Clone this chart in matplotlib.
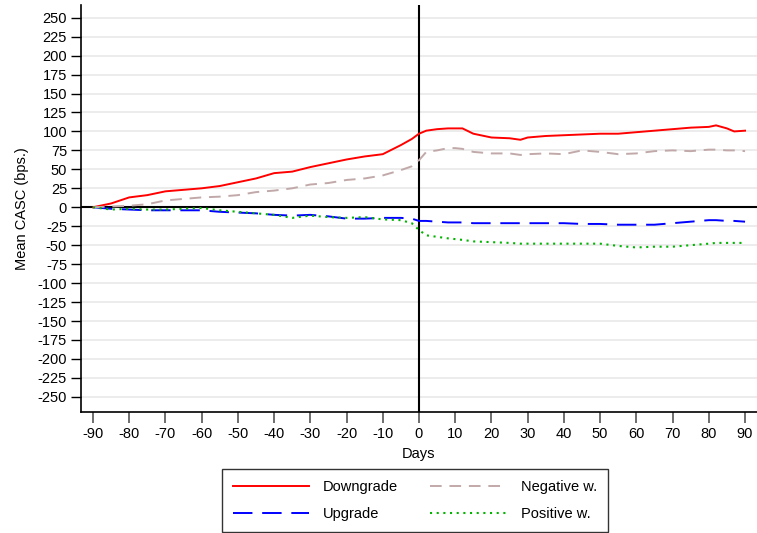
import matplotlib
matplotlib.use("Agg")
import matplotlib.pyplot as plt

plt.rcParams['font.family'] = ['Liberation Sans', 'DejaVu Sans']
plt.rcParams['axes.unicode_minus'] = False

# event window (days around rating event)
days = [-90, -85, -80, -75, -70, -65, -60, -55, -50, -45, -40, -35, -30, -25, -20, -15, -10, -5, -2,
        0, 2, 5, 8, 10, 12, 15, 20, 25, 28, 30, 35, 40, 45, 50, 55, 60, 65, 70, 75, 80, 82, 85, 87, 90]

downgrade = [0, 5, 13, 16, 21, 23, 25, 28, 33, 38, 45, 47, 53, 58, 63, 67, 70, 82, 90,
             97, 101, 103, 104, 104, 104, 97, 92, 91, 89, 92, 94, 95, 96, 97, 97, 99, 101, 103, 105, 106, 108, 104, 100, 101]
negative_w = [0, 1, 2, 4, 9, 11, 13, 14, 16, 20, 22, 25, 30, 32, 36, 38, 42, 49, 54,
              62, 73, 75, 78, 78, 77, 73, 71, 71, 69, 70, 71, 70, 75, 73, 70, 71, 74, 75, 74, 76, 76, 75, 75, 74]
upgrade = [0, -2, -3, -4, -4, -4, -4, -6, -7, -8, -10, -11, -10, -12, -15, -15, -14, -14, -15,
           -18, -18, -19, -20, -20, -20, -21, -21, -21, -21, -21, -21, -21, -22, -22, -23, -23, -23, -21, -19, -17, -17, -18, -18, -19]
positive_w = [0, -3, -2, -3, -3, -2, -1, -4, -6, -8, -10, -14, -11, -13, -14, -13, -16, -17, -21,
              -30, -37, -39, -41, -42, -43, -45, -46, -47, -48, -48, -48, -48, -48, -48, -51, -53, -52, -52, -50, -48, -47, -47, -47, -47]

x_ticks = list(range(-90, 91, 10))
y_ticks = list(range(-250, 251, 25))

fig = plt.figure(figsize=(7.57, 5.33), dpi=100)
ax = fig.add_axes([0.107, 0.227, 0.893, 0.764])

for y in y_ticks:
    ax.axhline(y, color='#ebebeb', lw=1.3, zorder=0)
ax.axhline(0, color='black', lw=1.5, zorder=1)
ax.axvline(0, color='black', lw=1.5, zorder=1)

l1, = ax.plot(days, downgrade, color='#ff0000', lw=1.4, label='Downgrade', zorder=3)
l2, = ax.plot(days, upgrade, color='#0000ff', lw=1.4, dashes=(10, 5), label='Upgrade', zorder=3)
l3, = ax.plot(days, negative_w, color='#c2a9a9', lw=1.4, dashes=(6, 4), label='Negative w.', zorder=3)
l4, = ax.plot(days, positive_w, color='#00b400', lw=1.5, dashes=(1, 2.2), label='Positive w.', zorder=3)

ax.set_xlim(-93.3, 93.3)
ax.set_ylim(-270, 267)
ax.set_xticks(x_ticks)
ax.set_yticks(y_ticks)
ax.tick_params(axis='y', labelsize=10.5, length=7, width=1, pad=3)
ax.tick_params(axis='x', labelsize=10.5, length=8, width=1.2, color='#555555', pad=3)

for s in ['top', 'right']:
    ax.spines[s].set_visible(False)
ax.spines['left'].set_linewidth(1.2)
ax.spines['bottom'].set_linewidth(1.2)

ax.set_xlabel('Days', fontsize=10.5, labelpad=4)
ax.set_ylabel('Mean CASC (bps.)', fontsize=10.5, labelpad=6)

leg = fig.legend([l1, l2, l3, l4], ['Downgrade', 'Upgrade', 'Negative w.', 'Positive w.'],
                 loc='lower center', bbox_to_anchor=(0.548, 0.002), ncol=2, fontsize=10.5,
                 frameon=True, fancybox=False, edgecolor='black', handlelength=5.2,
                 columnspacing=2.2, handletextpad=1.0, labelspacing=0.9, borderpad=0.75,
                 borderaxespad=0)
leg.get_frame().set_linewidth(1.0)

fig.savefig('out.png', dpi=100)
